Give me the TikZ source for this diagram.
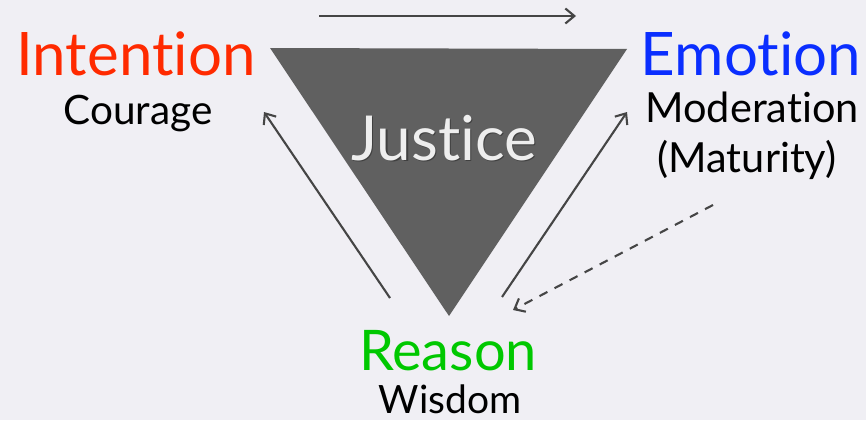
\documentclass[tikz,border=0pt]{standalone}
\usepackage{fontspec}
\setmainfont{Lato}[Ligatures=NoCommon]
\usetikzlibrary{arrows.meta}
\definecolor{bg}{HTML}{F0EFF4}
\definecolor{tri}{HTML}{606060}
\definecolor{arr}{HTML}{454545}
\definecolor{cred}{HTML}{FF2A00}
\definecolor{cblue}{HTML}{0A2EFF}
\definecolor{cgreen}{HTML}{00C800}
\definecolor{jus}{HTML}{EEEEEE}
\definecolor{jsh}{HTML}{404040}
\tikzset{
  lbl/.style={anchor=base, inner sep=0pt, outer sep=0pt},
  conn/.style={draw=arr, line width=2.1pt, -{Straight Barb[length=9pt,width=15pt,line width=2.1pt]}},
  dconn/.style={conn, dash pattern=on 9pt off 8pt},
}
\begin{document}
\begin{tikzpicture}[x=1pt,y=-1pt]
\fill[bg] (0,0) rectangle (866,420);
\useasboundingbox (0,0) rectangle (866,420);
% triangle
\fill[tri] (270,48) -- (627,49) -- (449,316) -- cycle;
% labels
\node[lbl, text=cred, font=\fontsize{60}{60}\selectfont] (int) at (136,75) {Intention};
\node[lbl, font=\fontsize{40.5}{40.5}\selectfont] (cou) at (138,124) {Courage};
\node[lbl, text=cblue, font=\fontsize{60}{60}\selectfont] (emo) at (751,75) {Emotion};
\node[lbl, font=\fontsize{41.5}{41.5}\selectfont] (mod) at (752,122) {Moderation};
\node[lbl, font=\fontsize{41.5}{41.5}\selectfont] (mat) at (747,172) {(Maturity)};
\node[lbl, text=cgreen, font=\fontsize{56}{56}\selectfont] (rea) at (448,370) {Reason};
\node[lbl, font=\fontsize{39}{39}\selectfont] (wis) at (450,413) {Wisdom};
\node[lbl, font=\fontsize{62}{62}\selectfont] (jus) at (444,160)
  {\makebox[0pt][l]{\hspace{1.5pt}\raisebox{-1.8pt}{\textcolor{jsh}{Justice}}}\textcolor{jus}{Justice}};
% connector end points
\coordinate (t1) at (319,16);
\coordinate (t2) at (576,16);
\coordinate (l1) at (390,298);
\coordinate (l2) at (264,112);
\coordinate (r1) at (502,297);
\coordinate (r2) at (627,112);
\coordinate (d1) at (713,205);
\coordinate (d2) at (513,310);
\draw[conn] (t1) -- (t2);
\draw[conn] (l1) -- (l2);
\draw[conn] (r1) -- (r2);
\draw[dconn] (d1) -- (d2);
\end{tikzpicture}
\end{document}
